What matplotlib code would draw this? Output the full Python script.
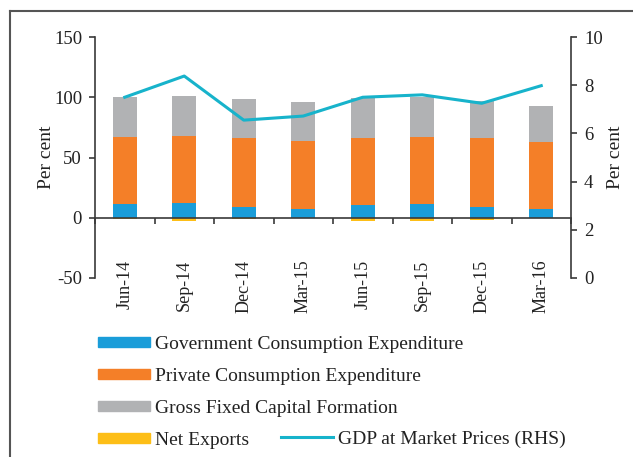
import matplotlib
matplotlib.use("Agg")
import matplotlib.pyplot as plt
import numpy as np
from matplotlib.patches import Patch
from matplotlib.lines import Line2D

plt.rcParams['font.family'] = ['Liberation Serif', 'DejaVu Serif']

categories = ["Jun-14", "Sep-14", "Dec-14", "Mar-15", "Jun-15", "Sep-15", "Dec-15", "Mar-16"]
gov_cons = [11.0, 12.2, 9.2, 7.5, 10.2, 11.6, 8.9, 7.2]
pvt_cons = [56.2, 55.8, 56.8, 55.8, 55.8, 55.0, 57.5, 55.8]
gfcf = [33.3, 32.8, 32.3, 32.7, 33.7, 33.6, 30.6, 30.0]
net_exports = [-1.0, -2.5, -1.0, -0.3, -2.5, -2.5, -1.5, -0.3]
gdp = [7.5, 8.38, 6.55, 6.72, 7.5, 7.6, 7.25, 7.98]

c_gov = "#1a9dd9"
c_pvt = "#f47f28"
c_gfcf = "#b1b2b4"
c_nx = "#fdbe17"
c_gdp = "#17b3cb"
axc = "#3a3a3a"
tc = "#222222"

fig = plt.figure(figsize=(6.33, 4.57), dpi=100)
ax = fig.add_axes([95/633, 1-278/457, (571-95)/633, (278-37)/457])

x = np.arange(len(categories)) + 0.5
w = 0.4
g = np.array(gov_cons)
p = np.array(pvt_cons)
f = np.array(gfcf)
ax.bar(x, g, w, color=c_gov, zorder=2)
ax.bar(x, p, w, bottom=g, color=c_pvt, zorder=2)
ax.bar(x, f, w, bottom=g + p, color=c_gfcf, zorder=2)
ax.bar(x, net_exports, w, color=c_nx, zorder=2)

ax.set_xlim(0, len(categories))
ax.set_ylim(-50, 150)
ax.set_yticks([-50, 0, 50, 100, 150])
ax.set_yticklabels(["-50", "0", "50", "100", "150"])
for s in ["top", "right"]:
    ax.spines[s].set_visible(False)
ax.spines["bottom"].set_position(("data", 0))
for s in ["left", "bottom"]:
    ax.spines[s].set_color(axc)
    ax.spines[s].set_linewidth(1.2)
    ax.spines[s].set_zorder(3)
ax.set_xticks(np.arange(len(categories) + 1))
ax.set_xticklabels([])
ax.set_xticks(x, minor=True)
ax.set_xticklabels(categories, minor=True, rotation=90, fontsize=13, color=tc)
ax.tick_params(axis="x", which="major", direction="out", length=4.3, width=1.2, color=axc)
ax.tick_params(axis="x", which="minor", length=0, pad=30)
ax.tick_params(axis="y", direction="out", length=4.3, width=1.2, color=axc, labelsize=13.5, labelcolor=tc, pad=5)
ax.set_ylabel("Per cent", fontsize=14, color=tc, labelpad=-1)

ax2 = ax.twinx()
ax2.plot(x, gdp, color=c_gdp, lw=2.2, zorder=4)
ax2.set_ylim(0, 10)
ax2.set_yticks([0, 2, 4, 6, 8, 10])
for s in ["top", "left", "bottom"]:
    ax2.spines[s].set_visible(False)
ax2.spines["right"].set_color(axc)
ax2.spines["right"].set_linewidth(1.2)
ax2.tick_params(axis="y", direction="out", length=4.3, width=1.2, color=axc, labelsize=13.5, labelcolor=tc, pad=5)
ax2.set_ylabel("Per cent", fontsize=14, color=tc, labelpad=3)

handles = [Patch(color=c_gov), Patch(color=c_pvt), Patch(color=c_gfcf), Patch(color=c_nx)]
labels = ["Government Consumption Expenditure", "Private Consumption Expenditure",
          "Gross Fixed Capital Formation", "Net Exports"]
leg = fig.legend(handles, labels, loc="upper left", bbox_to_anchor=(98/633, 1-336/457),
                 frameon=False, fontsize=14, handlelength=2.65, handleheight=0.42,
                 handletextpad=0.3, labelspacing=0.77, borderpad=0, borderaxespad=0)
for t in leg.get_texts():
    t.set_color(tc)
leg2 = fig.legend([Line2D([0], [0], color=c_gdp, lw=2.2)], ["GDP at Market Prices (RHS)"],
                  loc="upper left", bbox_to_anchor=(281/633, 1-430/457),
                  frameon=False, fontsize=14, handlelength=2.65, handletextpad=0.3,
                  borderpad=0, borderaxespad=0)
for t in leg2.get_texts():
    t.set_color(tc)

# outer frame (top and left edges)
fig.add_artist(Line2D([10/633, 10/633], [0, 1-11/457], transform=fig.transFigure, color="#555555", lw=1.5))
fig.add_artist(Line2D([10/633, 1], [1-11/457, 1-11/457], transform=fig.transFigure, color="#555555", lw=1.5))

fig.savefig("out.png", dpi=100)
